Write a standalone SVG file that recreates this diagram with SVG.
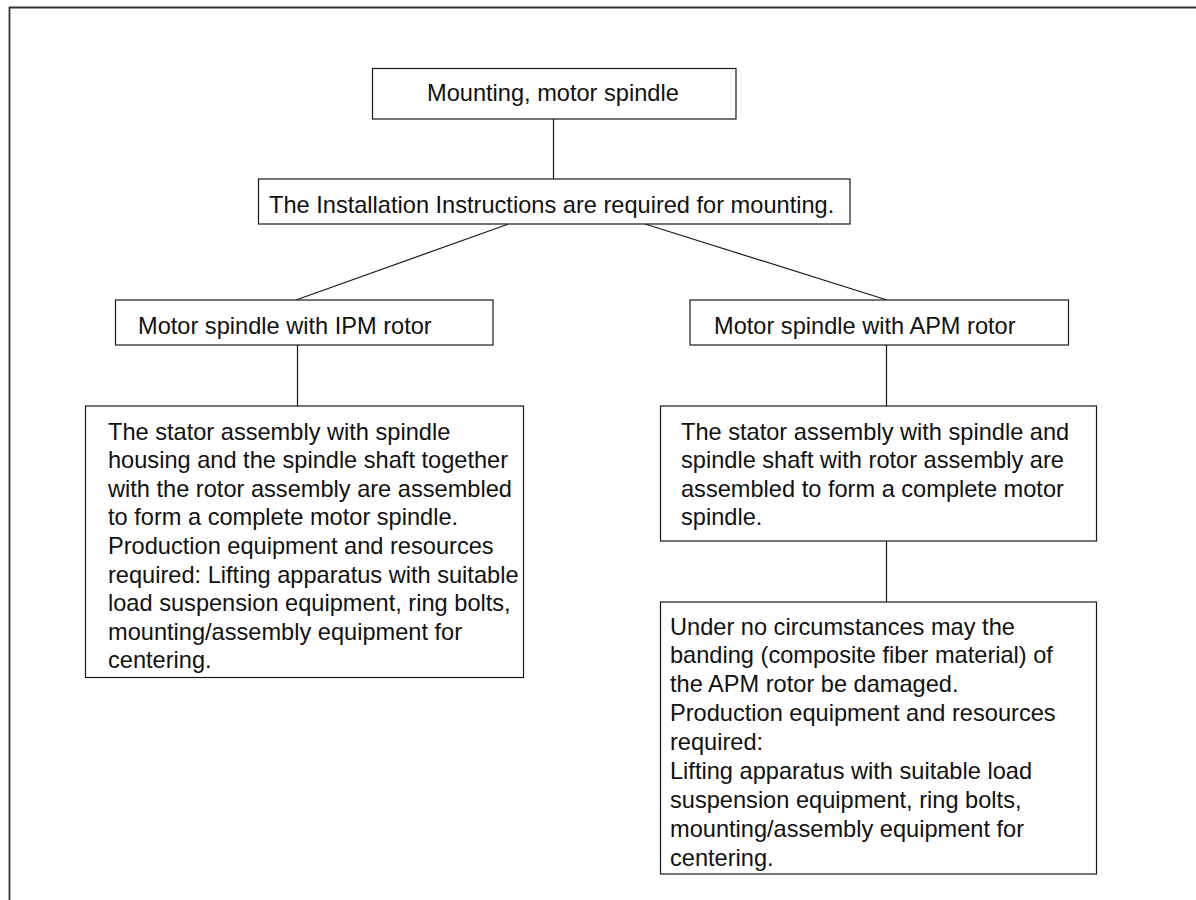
<svg xmlns="http://www.w3.org/2000/svg" width="1196" height="900" viewBox="0 0 1196 900">
  <style>
    .box { fill: #ffffff; stroke: #1a1a1a; stroke-width: 1.2; }
    .lbl { font-family: "Liberation Sans", Arial, sans-serif; font-size: 23.6px; fill: #111111; }
    .link { stroke: #1a1a1a; stroke-width: 1.2; fill: none; }
    .frame { stroke: #333333; stroke-width: 1.8; fill: none; }
  </style>
  <rect x="0" y="0" width="1196" height="900" fill="#ffffff"/>
  <!-- page frame (top and left edges) -->
  <path class="frame" d="M9.5,900 V7.5 H1196"/>

  <!-- connectors -->
  <g id="connectors">
    <line class="link" x1="553.5" y1="119" x2="553.5" y2="179"/>
    <line class="link" x1="508.5" y1="224" x2="296" y2="300"/>
    <line class="link" x1="645" y1="224" x2="887" y2="300"/>
    <line class="link" x1="297.5" y1="345" x2="297.5" y2="406"/>
    <line class="link" x1="886.5" y1="345" x2="886.5" y2="406"/>
    <line class="link" x1="886.5" y1="541" x2="886.5" y2="602"/>
  </g>

  <g id="node-mounting">
    <rect class="box" x="372.5" y="68.5" width="363.5" height="50.5"/>
    <text class="lbl" x="427" y="100.5">Mounting, motor spindle</text>
  </g>

  <g id="node-instructions">
    <rect class="box" x="258.5" y="179" width="591.5" height="45"/>
    <text class="lbl" x="269" y="212.5">The Installation Instructions are required for mounting.</text>
  </g>

  <g id="node-ipm">
    <rect class="box" x="115.5" y="300" width="377.5" height="45"/>
    <text class="lbl" x="138" y="333.5">Motor spindle with IPM rotor</text>
  </g>

  <g id="node-apm">
    <rect class="box" x="690" y="300" width="378.5" height="45"/>
    <text class="lbl" x="714" y="333.5">Motor spindle with APM rotor</text>
  </g>

  <g id="node-ipm-assembly">
    <rect class="box" x="85.5" y="406" width="438" height="271.5"/>
    <text class="lbl">
      <tspan x="108" y="439.5">The stator assembly with spindle</tspan>
      <tspan x="108" y="468.1">housing and the spindle shaft together</tspan>
      <tspan x="108" y="496.7">with the rotor assembly are assembled</tspan>
      <tspan x="108" y="525.3">to form a complete motor spindle.</tspan>
      <tspan x="108" y="553.9">Production equipment and resources</tspan>
      <tspan x="108" y="582.5">required: Lifting apparatus with suitable</tspan>
      <tspan x="108" y="611.1">load suspension equipment, ring bolts,</tspan>
      <tspan x="108" y="639.7">mounting/assembly equipment for</tspan>
      <tspan x="108" y="668.3">centering.</tspan>
    </text>
  </g>

  <g id="node-apm-assembly">
    <rect class="box" x="660.5" y="406" width="436" height="135"/>
    <text class="lbl">
      <tspan x="681" y="439.5">The stator assembly with spindle and</tspan>
      <tspan x="681" y="468.1">spindle shaft with rotor assembly are</tspan>
      <tspan x="681" y="496.7">assembled to form a complete motor</tspan>
      <tspan x="681" y="525.3">spindle.</tspan>
    </text>
  </g>

  <g id="node-apm-caution">
    <rect class="box" x="660.5" y="602" width="436" height="272"/>
    <text class="lbl">
      <tspan x="670" y="634.5">Under no circumstances may the</tspan>
      <tspan x="670" y="663.4">banding (composite fiber material) of</tspan>
      <tspan x="670" y="692.3">the APM rotor be damaged.</tspan>
      <tspan x="670" y="721.2">Production equipment and resources</tspan>
      <tspan x="670" y="750.1">required:</tspan>
      <tspan x="670" y="779">Lifting apparatus with suitable load</tspan>
      <tspan x="670" y="807.9">suspension equipment, ring bolts,</tspan>
      <tspan x="670" y="836.8">mounting/assembly equipment for</tspan>
      <tspan x="670" y="865.7">centering.</tspan>
    </text>
  </g>
</svg>
